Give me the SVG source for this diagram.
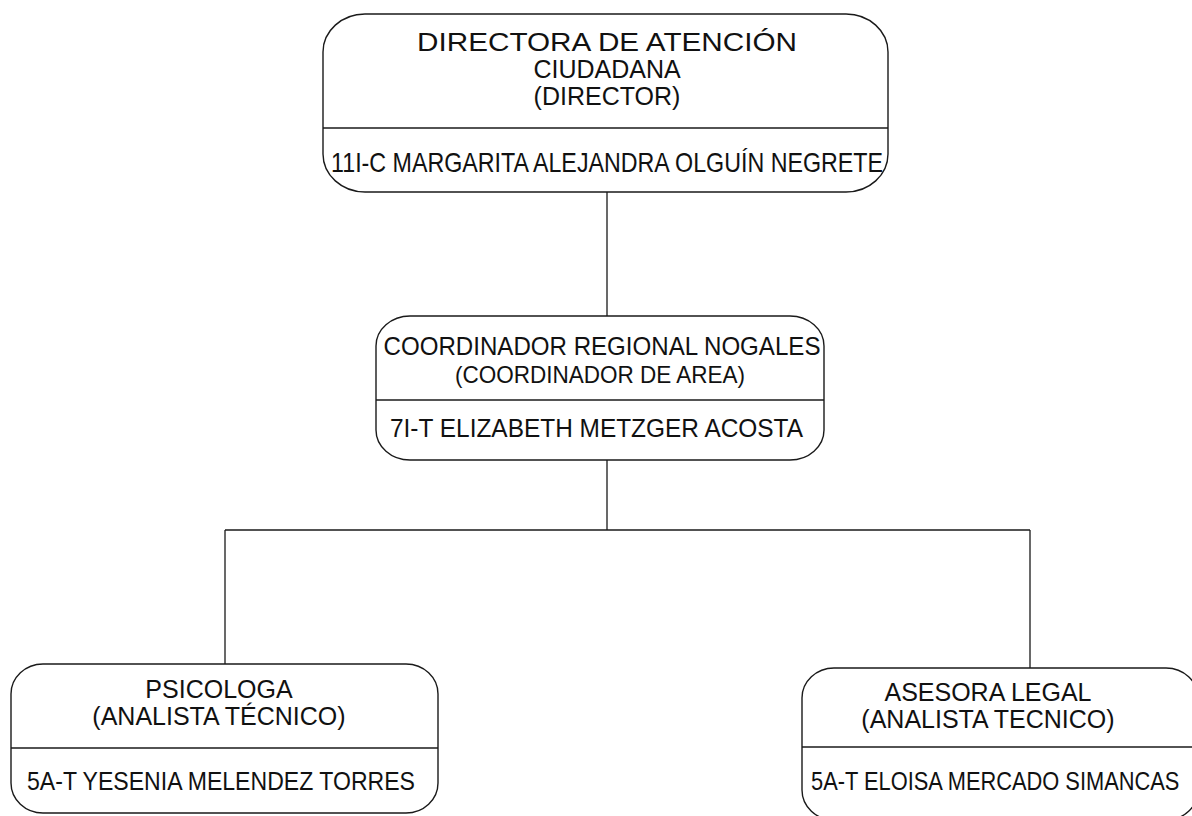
<svg xmlns="http://www.w3.org/2000/svg" width="1192" height="816" viewBox="0 0 1192 816">
<style>
.box{fill:none;stroke:#1a1a1a;stroke-width:1.4}
.div{stroke:#1a1a1a;stroke-width:1.3}
.con{fill:none;stroke:#1a1a1a;stroke-width:1.3}
text{font-family:"Liberation Sans",Arial,sans-serif;fill:#111}
.t{text-anchor:middle}
</style>
<rect width="1192" height="816" fill="#fff"/>
<g id="connectors">
<path class="con" d="M607 192V316M607 460V530M225 530H1030M225 530V664M1030 530V668"/>
</g>
<g id="director">
<rect class="box" x="323" y="14" width="565" height="178" rx="42" ry="38"/>
<line class="div" x1="323" y1="128" x2="888" y2="128"/>
<text class="t" x="607" y="51" style="font-size:25px" textLength="380" lengthAdjust="spacingAndGlyphs">DIRECTORA DE ATENCIÓN</text>
<text class="t" x="607" y="78" style="font-size:25px">CIUDADANA</text>
<text class="t" x="607" y="105" style="font-size:25px">(DIRECTOR)</text>
<text x="331" y="172" style="font-size:28px" textLength="552" lengthAdjust="spacingAndGlyphs">11I-C MARGARITA ALEJANDRA OLGUÍN NEGRETE</text>
</g>
<g id="coordinador">
<rect class="box" x="376" y="316" width="448" height="144" rx="34" ry="30"/>
<line class="div" x1="376" y1="400" x2="824" y2="400"/>
<text class="t" x="602" y="355" style="font-size:25px" textLength="437" lengthAdjust="spacingAndGlyphs">COORDINADOR REGIONAL NOGALES</text>
<text class="t" x="600" y="383" style="font-size:24px" textLength="290" lengthAdjust="spacingAndGlyphs">(COORDINADOR DE AREA)</text>
<text x="390" y="437" style="font-size:26px" textLength="413" lengthAdjust="spacingAndGlyphs">7I-T ELIZABETH METZGER ACOSTA</text>
</g>
<g id="psicologa">
<rect class="box" x="11" y="664" width="427" height="149" rx="32" ry="30"/>
<line class="div" x1="11" y1="748" x2="438" y2="748"/>
<text class="t" x="219" y="698" style="font-size:25px">PSICOLOGA</text>
<text class="t" x="219" y="725" style="font-size:25px">(ANALISTA TÉCNICO)</text>
<text x="27" y="790" style="font-size:26px" textLength="388" lengthAdjust="spacingAndGlyphs">5A-T YESENIA MELENDEZ TORRES</text>
</g>
<g id="asesora">
<rect class="box" x="802" y="668" width="396" height="152" rx="32" ry="30"/>
<line class="div" x1="802" y1="747" x2="1192" y2="747"/>
<text class="t" x="988" y="701" style="font-size:25px">ASESORA LEGAL</text>
<text class="t" x="988" y="728" style="font-size:25px">(ANALISTA TECNICO)</text>
<text transform="translate(811 790) scale(0.84 1)" style="font-size:26px">5A-T ELOISA MERCADO SIMANCAS</text>
</g>
</svg>
